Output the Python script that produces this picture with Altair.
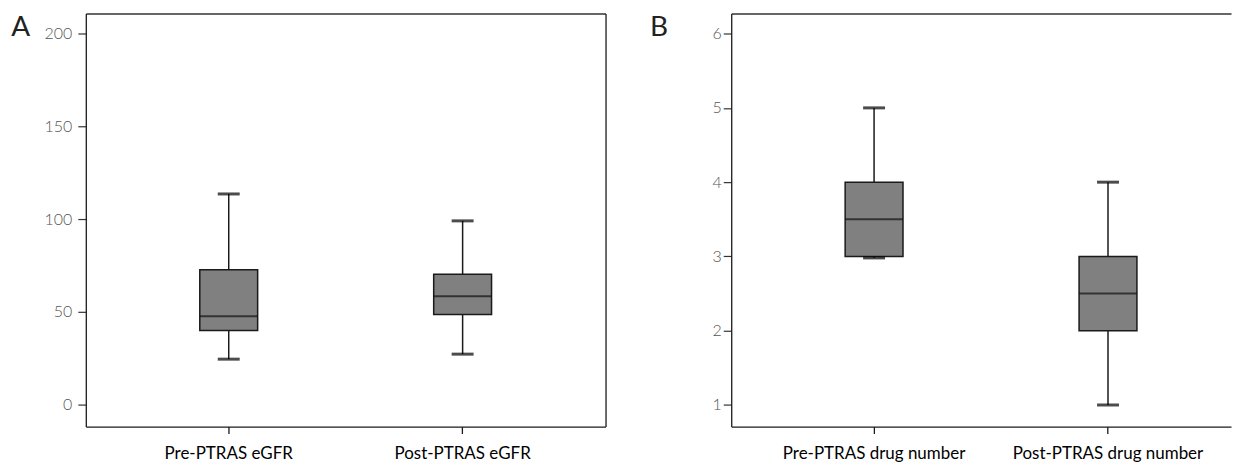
import altair as alt
import pandas as pd

# ---- data ----
groups_a = ["Pre-PTRAS eGFR", "Post-PTRAS eGFR"]
low_a = [24.5, 27.2]
q1_a = [40.0, 48.5]
med_a = [47.6, 58.4]
q3_a = [72.7, 70.2]
high_a = [113.5, 99.0]
ticks_a = [0, 50, 100, 150, 200]
domain_a = [-11.8, 210.7]

groups_b = ["Pre-PTRAS drug number", "Post-PTRAS drug number"]
low_b = [2.98, 1.0]
q1_b = [3.0, 2.0]
med_b = [3.5, 2.5]
q3_b = [4.0, 3.0]
high_b = [5.0, 4.0]
ticks_b = [1, 2, 3, 4, 5, 6]
domain_b = [0.71, 6.27]

FRAME = "#1a1a1a"
BOX_FILL = "#808080"
LABEL_FONT = "Lato"


def panel(groups, low, q1, med, q3, high, ticks, domain, width, pad_outer, align,
          letter, right_frame, label_pad, title_offset):
    df = pd.DataFrame({"group": groups, "low": low, "q1": q1, "med": med,
                       "q3": q3, "high": high})
    xscale = alt.Scale(domain=groups, paddingInner=0, paddingOuter=pad_outer, align=align)
    yscale = alt.Scale(domain=domain, nice=False, zero=False)

    x_bottom = alt.X("group:N", sort=groups, scale=xscale,
                     axis=alt.Axis(title=None, orient="bottom", labelAngle=0,
                                   labelFont=LABEL_FONT, labelFontSize=17,
                                   labelColor="#000000", labelPadding=12,
                                   labelLimit=0,
                                   tickSize=7, tickColor=FRAME, tickWidth=1.3,
                                   domainColor=FRAME, domainWidth=1.3, grid=False))
    y_left = alt.Y("low:Q", scale=yscale,
                   axis=alt.Axis(title=None, orient="left", values=ticks,
                                 labelFont=LABEL_FONT, labelFontSize=16,
                                 labelFontWeight=300, labelColor="#555555",
                                 labelPadding=label_pad, tickSize=8,
                                 tickColor="#333333", tickWidth=1.2,
                                 domainColor=FRAME, domainWidth=1.3, grid=False))

    base = alt.Chart(df)
    whisker = base.mark_rule(color=FRAME, strokeWidth=1.5).encode(
        x=x_bottom, y=y_left, y2="high:Q")
    box = base.mark_bar(size=58, fill=BOX_FILL, stroke=FRAME, strokeWidth=1.5).encode(
        x=alt.X("group:N", sort=groups, scale=xscale, axis=None),
        y=alt.Y("q1:Q", scale=yscale, axis=None), y2="q3:Q")
    median = base.mark_tick(size=58, thickness=2, color="#111111").encode(
        x=alt.X("group:N", sort=groups, scale=xscale, axis=None),
        y=alt.Y("med:Q", scale=yscale, axis=None))
    cap_low = base.mark_tick(size=22, thickness=3, color="#000000").encode(
        x=alt.X("group:N", sort=groups, scale=xscale, axis=None),
        y=alt.Y("low:Q", scale=yscale, axis=None))

    top_axis = alt.Axis(title=None, orient="top", labels=False, ticks=False,
                        domainColor="#333333", domainWidth=1.5, grid=False)
    if right_frame:
        right_axis = alt.Axis(title=None, orient="right", labels=False, ticks=False,
                              domainColor=FRAME, domainWidth=1.3, grid=False)
    else:
        right_axis = None
    cap_high = base.mark_tick(size=22, thickness=3, color="#000000").encode(
        x=alt.X("group:N", sort=groups, scale=xscale, axis=top_axis),
        y=alt.Y("high:Q", scale=yscale, axis=right_axis))

    return alt.layer(whisker, box, median, cap_low, cap_high).resolve_axis(
        x="independent", y="independent"
    ).properties(
        width=width, height=414,
        title=alt.TitleParams(text=letter, orient="left", anchor="end", angle=0,
                              align="right", baseline="top", offset=title_offset,
                              font=LABEL_FONT, fontSize=28, fontWeight="normal",
                              color="#222222", dy=1),
    )


panel_a = panel(groups_a, low_a, q1_a, med_a, q3_a, high_a, ticks_a, domain_a,
                521, 0.111, 0.5, "A", True, 6, -5)
panel_b = panel(groups_b, low_b, q1_b, med_b, q3_b, high_b, ticks_b, domain_b,
                501, 0.0682, 0.811, "B", False, 2, 26)

chart = alt.hconcat(panel_a, panel_b, spacing=43).properties(
    padding={"left": 2, "top": 4, "right": 0, "bottom": 0},
    background="white",
).configure_view(stroke="transparent")

chart.save("out.html", embed_options={"renderer": "svg", "actions": False})
